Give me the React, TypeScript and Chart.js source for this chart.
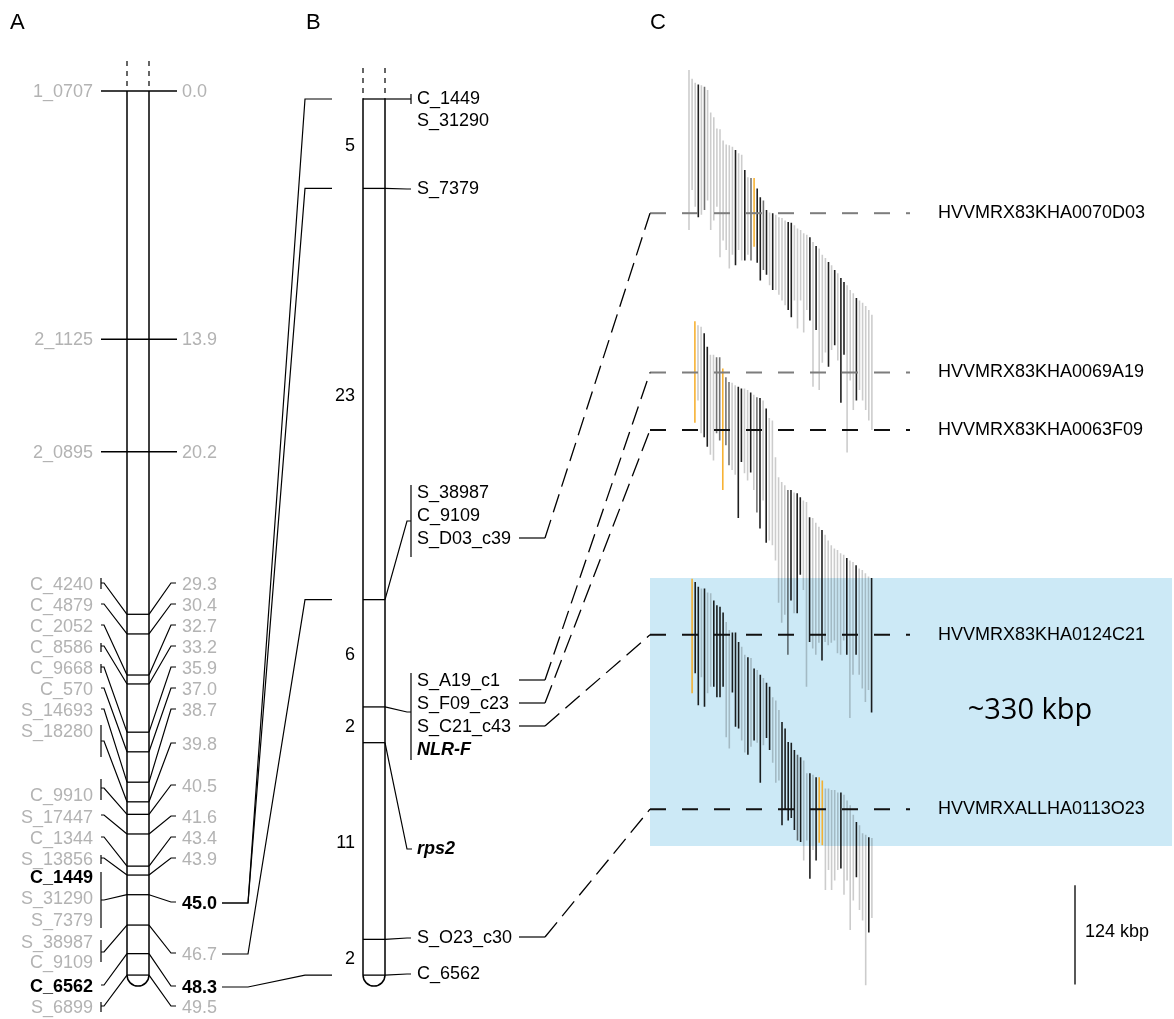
import React, { useEffect, useRef } from 'react';
import { Chart, registerables } from 'chart.js';
Chart.register(...registerables);

const W = 1174;
const H = 1019;

// ---------------- Panel A : genetic map (cM) ----------------
const aTopMarkers = ['1_0707', '2_1125', '2_0895'];
const aTopCM = [0.0, 13.9, 20.2];
const aLociCM = [29.3, 30.4, 32.7, 33.2, 35.9, 37.0, 38.7, 39.8, 40.5, 41.6, 43.4, 43.9, 45.0, 46.7, 48.3, 49.5];
const aMarkers = ['C_4240', 'C_4879', 'C_2052', 'C_8586', 'C_9668', 'C_570', 'S_14693', 'S_18280', 'C_9910',
  'S_17447', 'C_1344', 'S_13856', 'C_1449', 'S_31290', 'S_7379', 'S_38987', 'C_9109', 'C_6562', 'S_6899'];
const aMarkerLocus = [0, 1, 2, 3, 4, 5, 6, 7, 8, 9, 10, 11, 12, 12, 12, 13, 13, 14, 15];
const aBoldMarkers = ['C_1449', 'C_6562'];
const aBoldLoci = [45.0, 48.3];

// ---------------- Panel B : high resolution map ----------------
const bLociPos = [0, 5, 28, 34, 36, 47, 49];
const bIntervalLabels = ['5', '23', '6', '2', '11', '2'];
const bLocusMarkers = [
  ['C_1449', 'S_31290'],
  ['S_7379'],
  ['S_38987', 'C_9109', 'S_D03_c39'],
  ['S_A19_c1', 'S_F09_c23', 'S_C21_c43', 'NLR-F'],
  ['rps2'],
  ['S_O23_c30'],
  ['C_6562'],
];
const bGenes = ['NLR-F', 'rps2'];
const abLinkA = [12, 12, 13, 14];
const abLinkB = [0, 1, 2, 6];

// ---------------- Panel C : BAC contig (kbp) ----------------
const bacNames = ['HVVMRX83KHA0070D03', 'HVVMRX83KHA0069A19', 'HVVMRX83KHA0063F09', 'HVVMRX83KHA0124C21', 'HVVMRXALLHA0113O23'];
const bacKbp = [179, 378, 450, 706, 924];
const bacMarker = ['S_D03_c39', 'S_A19_c1', 'S_F09_c23', 'S_C21_c43', 'S_O23_c30'];
const bacGrey = [true, true, false, false, false];
const regionKbp = [635, 970];
const regionLabel = '~330 kbp';
const scaleKbp = [1019, 1143];
const scaleLabel = '124 kbp';

const c1Start = [0, 11, 16, 18, 19, 21, 25, 53, 59, 73, 74, 88, 93, 94, 96, 100, 104, 106, 125, 134,
  135, 135, 148, 159, 163, 175, 178, 179, 181, 184, 185, 188, 190, 191, 194, 198, 200, 204, 206, 209,
  215, 220, 223, 231, 235, 240, 244, 250, 254, 260, 265, 269, 275, 279, 285, 288, 291, 295, 300, 306];
const c1End = [200, 150, 171, 184, 181, 175, 163, 200, 188, 171, 234, 213, 225, 248, 231, 244, 225, 238, 238, 231,
  238, 221, 241, 263, 250, 256, 269, 275, 275, 281, 288, 294, 300, 309, 288, 323, 288, 328, 300, 313,
  396, 325, 400, 366, 353, 371, 350, 344, 363, 416, 356, 478, 388, 425, 413, 400, 413, 425, 438, 450];
const c1Shade = 'llldl mllll lllll dlldl moddm dldll lldd l lllld l dllld ldldd llldl lllll';

const c2Start = [314, 319, 321, 329, 346, 356, 356, 359, 359, 373, 384, 390, 391, 394, 396, 398, 398, 400, 403, 406,
  409, 410, 413, 423, 435, 438, 484, 509, 515, 519, 525, 525, 528, 529, 534, 538, 540, 559, 560, 566,
  571, 575, 581, 588, 594, 598, 600, 604, 606, 610, 613, 615, 619, 623, 625, 629, 633, 635];
const c2End = [441, 413, 454, 459, 471, 481, 488, 454, 463, 525, 469, 494, 500, 506, 560, 490, 504, 513, 503, 525,
  553, 573, 538, 591, 588, 594, 613, 666, 691, 681, 731, 663, 679, 679, 631, 650, 771, 715, 723, 731,
  716, 738, 715, 719, 716, 713, 729, 731, 713, 731, 810, 756, 731, 756, 773, 790, 775, 803];
const c2Shade = 'olldd llmmo mmlld dlldl mdldl lllll mdldd lldll ldlll lllld lldll lld';

const c3Start = [636, 640, 646, 648, 648, 653, 654, 663, 669, 671, 678, 690, 700, 703, 703, 715, 721, 731, 734, 735,
  748, 750, 756, 760, 766, 771, 784, 788, 800, 815, 823, 840, 841, 850, 856, 859, 863, 879, 879, 881,
  884, 884, 888, 898, 898, 900, 900, 903, 903, 906, 913, 919, 931, 940, 944, 954, 956, 959, 960];
const c3End = [779, 754, 794, 759, 796, 779, 771, 771, 784, 784, 771, 834, 848, 778, 821, 823, 838, 853, 856, 846,
  838, 841, 891, 844, 835, 850, 866, 891, 888, 944, 925, 938, 935, 950, 963, 965, 988, 963, 1011, 975,
  988, 966, 969, 1025, 1000, 1025, 1013, 1000, 998, 1031, 1013, 1075, 1038, 1009, 1050, 1063, 1144, 1078, 1060];
const c3Shade = 'oddld llddd dlldd dlldl dldld dllld ddddm dlldl dooll llldl llldl lldl';

// ---------------- layout (pixels) ----------------
const LAY = {
  aBarL: 127, aBarR: 149, aLabelR: 93, aLineX0: 101, aKneeL: 104, aKneeR: 171, aLineX1: 176, aNumX: 182,
  aRowsL: [585, 606, 627, 648, 669, 690, 711, 732, 796, 818, 839, 860, 878, 899, 921, 943, 963, 987, 1008],
  aLineL: [583, 604, 625, 646, 667, 688, 709, 741, 788, 815, 837, 858, 900, 952, 985, 1006],
  aBracketL: [[578, 589], null, null, [643, 652], [664, 673], null, null, [725, 757], [779, 800], null, null,
    [855, 864], [872, 928], [940, 962], null, [1002, 1012]] as (number[] | null)[],
  aRowsR: [585, 606, 627, 648, 669, 690, 711, 745, 787, 818, 839, 860, 904, 955, 988, 1008],
  linkX0: 222, linkX1: 248, linkX2: 305, linkX3: 332,
  bBarL: 363, bBarR: 385, bKneeX: 407, bBracketX: 411, bLabelX: 417, bNumR: 355,
  bRows: [[99, 121], [189], [493, 516, 539], [681, 704, 727, 750], [849], [938], [974]],
  bKneeY: [99, 189, 521, 712, 849, 938, 974],
  bBracket: [[94, 104], null, [485, 557], [673, 760], null, null, null] as (number[] | null)[],
  bcX0: 519, bcX1: 545, bcX2: 650,
  anchorX0: 650, anchorX1: 910, bacLabelX: 938,
  boxX0: 650, boxX1: 1172, regionX: 1030,
  scaleX: 1075, scaleLabelX: 1085,
  g1Offset: 0, g2Offset: 1.9, g3Offset: 1.0,
};

const FONT = '"Liberation Sans", Arial, Helvetica, sans-serif';
const GREY_TEXT = '#b3b3b3';
const BOX_COLOR = 'rgb(204,233,246)';
const SHADE: Record<string, string> = {
  l: 'rgba(0,0,0,0.2)',
  m: 'rgba(0,0,0,0.55)',
  d: 'rgba(0,0,0,0.88)',
  o: 'rgba(246,170,30,0.9)',
};

function seg(points: { x: number; y: number }[], xAxisID: string, yAxisID: string, color: string, width: number, dash: number[] = []) {
  return {
    data: points,
    xAxisID,
    yAxisID,
    showLine: true,
    borderColor: color,
    backgroundColor: color,
    borderWidth: width,
    borderDash: dash,
    borderCapStyle: 'butt',
    pointRadius: 0,
    pointHoverRadius: 0,
    fill: false,
    tension: 0,
  };
}

function buildDatasets() {
  const ds: any[] = [];
  // Panel A chromosome
  const aEnd = aLociCM[aLociCM.length - 1];
  ds.push(seg([{ x: LAY.aBarL, y: 0 }, { x: LAY.aBarL, y: aEnd }], 'x', 'yA', '#000', 1.5));
  ds.push(seg([{ x: LAY.aBarR, y: 0 }, { x: LAY.aBarR, y: aEnd }], 'x', 'yA', '#000', 1.5));
  aTopCM.forEach((cm) => ds.push(seg([{ x: LAY.aLineX0, y: cm }, { x: LAY.aLineX1 + 1, y: cm }], 'x', 'yA', '#000', 1.3)));
  aLociCM.forEach((cm) => ds.push(seg([{ x: LAY.aBarL, y: cm }, { x: LAY.aBarR, y: cm }], 'x', 'yA', '#000', 1.3)));
  // Panel B chromosome
  const bEnd = bLociPos[bLociPos.length - 1];
  ds.push(seg([{ x: LAY.bBarL, y: 0 }, { x: LAY.bBarL, y: bEnd }], 'x', 'yB', '#000', 1.5));
  ds.push(seg([{ x: LAY.bBarR, y: 0 }, { x: LAY.bBarR, y: bEnd }], 'x', 'yB', '#000', 1.5));
  bLociPos.forEach((p) => ds.push(seg([{ x: LAY.bBarL, y: p }, { x: LAY.bBarR, y: p }], 'x', 'yB', '#000', 1.3)));
  // Panel C anchors
  bacKbp.forEach((k, i) => ds.push(seg([{ x: LAY.anchorX0, y: k }, { x: LAY.anchorX1, y: k }], 'x', 'yC',
    bacGrey[i] ? '#7d7d7d' : '#111', 2, [16, 16])));
  // contig clones
  const groups = [
    { s: c1Start, e: c1End, sh: c1Shade.replace(/ /g, ''), off: LAY.g1Offset },
    { s: c2Start, e: c2End, sh: c2Shade.replace(/ /g, ''), off: LAY.g2Offset },
    { s: c3Start, e: c3End, sh: c3Shade.replace(/ /g, ''), off: LAY.g3Offset },
  ];
  groups.forEach((g) => {
    g.s.forEach((s, i) => {
      const col = SHADE[g.sh[i]] || SHADE.l;
      ds.push(seg([{ x: g.off + i, y: s }, { x: g.off + i, y: g.e[i] }], 'xC', 'yC', col, 1.6));
    });
  });
  // scale bar
  ds.push(seg([{ x: LAY.scaleX, y: scaleKbp[0] }, { x: LAY.scaleX, y: scaleKbp[1] }], 'x', 'yC', '#000', 1.3));
  return ds;
}

function path(ctx: CanvasRenderingContext2D, pts: number[][], color = '#000', w = 1.2, dash: number[] = []) {
  ctx.save();
  ctx.beginPath();
  ctx.setLineDash(dash);
  ctx.strokeStyle = color;
  ctx.lineWidth = w;
  ctx.lineJoin = 'miter';
  pts.forEach((p, i) => (i ? ctx.lineTo(p[0], p[1]) : ctx.moveTo(p[0], p[1])));
  ctx.stroke();
  ctx.restore();
}

function text(ctx: CanvasRenderingContext2D, s: string, x: number, y: number, opt: { align?: CanvasTextAlign; color?: string; font?: string } = {}) {
  ctx.save();
  ctx.font = opt.font || `18px ${FONT}`;
  ctx.fillStyle = opt.color || '#000';
  ctx.textAlign = opt.align || 'left';
  ctx.textBaseline = 'middle';
  ctx.fillText(s, x, y);
  ctx.restore();
}

const mapPlugin = {
  id: 'geneticMapDecor',
  beforeDatasetsDraw(chart: any) {
    const { ctx, scales } = chart;
    const t = scales.yC.getPixelForValue(regionKbp[0]);
    const b = scales.yC.getPixelForValue(regionKbp[1]);
    ctx.save();
    ctx.fillStyle = BOX_COLOR;
    ctx.fillRect(LAY.boxX0, t, LAY.boxX1 - LAY.boxX0, b - t);
    ctx.restore();
  },
  afterDatasetsDraw(chart: any) {
    const { ctx, scales } = chart;
    const yA = (v: number) => scales.yA.getPixelForValue(v);
    const yB = (v: number) => scales.yB.getPixelForValue(v);
    const yC = (v: number) => scales.yC.getPixelForValue(v);

    // panel letters
    text(ctx, 'A', 10, 23, { font: `22px ${FONT}` });
    text(ctx, 'B', 306, 23, { font: `22px ${FONT}` });
    text(ctx, 'C', 650, 23, { font: `22px ${FONT}` });

    // ---- Panel A ----
    const a0 = yA(0);
    [LAY.aBarL, LAY.aBarR].forEach((x) => path(ctx, [[x, a0 - 30], [x, a0]], '#000', 1.2, [5, 5]));
    const aLast = aLociCM[aLociCM.length - 1];
    ctx.save();
    ctx.beginPath();
    ctx.lineWidth = 1.5;
    ctx.strokeStyle = '#000';
    ctx.arc((LAY.aBarL + LAY.aBarR) / 2, yA(aLast), (LAY.aBarR - LAY.aBarL) / 2, 0, Math.PI);
    ctx.stroke();
    ctx.restore();

    aTopMarkers.forEach((m, i) => {
      const y = yA(aTopCM[i]) + 1;
      text(ctx, m, LAY.aLabelR, y, { align: 'right', color: GREY_TEXT });
      text(ctx, aTopCM[i].toFixed(1), LAY.aNumX, y, { color: GREY_TEXT });
    });

    aLociCM.forEach((cm, i) => {
      const ty = yA(cm);
      const ly = LAY.aLineL[i];
      path(ctx, [[LAY.aBarL, ty], [LAY.aKneeL, ly], [LAY.aLineX0, ly]], '#000', 1.2);
      const br = LAY.aBracketL[i];
      if (br) path(ctx, [[LAY.aLineX0, br[0]], [LAY.aLineX0, br[1]]], '#000', 1.2);
      const ry = LAY.aRowsR[i] - 2;
      path(ctx, [[LAY.aBarR, ty], [LAY.aKneeR, ry], [LAY.aLineX1, ry]], '#000', 1.2);
      const bold = aBoldLoci.includes(cm);
      text(ctx, cm.toFixed(1), LAY.aNumX, LAY.aRowsR[i], {
        color: bold ? '#000' : GREY_TEXT,
        font: `${bold ? 'bold ' : ''}18px ${FONT}`,
      });
    });

    aMarkers.forEach((m, i) => {
      const bold = aBoldMarkers.includes(m);
      text(ctx, m, LAY.aLabelR, LAY.aRowsL[i], {
        align: 'right',
        color: bold ? '#000' : GREY_TEXT,
        font: `${bold ? 'bold ' : ''}18px ${FONT}`,
      });
    });

    // ---- links A -> B ----
    abLinkA.forEach((ai, k) => {
      const ry = LAY.aRowsR[ai] - 1;
      const by = yB(bLociPos[abLinkB[k]]);
      path(ctx, [[LAY.linkX0, ry], [LAY.linkX1, ry], [LAY.linkX2, by], [LAY.linkX3, by]], '#000', 1.2);
    });

    // ---- Panel B ----
    const b0 = yB(0);
    [LAY.bBarL, LAY.bBarR].forEach((x) => path(ctx, [[x, b0 - 31], [x, b0]], '#000', 1.2, [5, 5]));
    const bLast = bLociPos[bLociPos.length - 1];
    ctx.save();
    ctx.beginPath();
    ctx.lineWidth = 1.5;
    ctx.strokeStyle = '#000';
    ctx.arc((LAY.bBarL + LAY.bBarR) / 2, yB(bLast), (LAY.bBarR - LAY.bBarL) / 2, 0, Math.PI);
    ctx.stroke();
    ctx.restore();

    bIntervalLabels.forEach((s, i) => {
      const y = yB((bLociPos[i] + bLociPos[i + 1]) / 2) + 2;
      text(ctx, s, LAY.bNumR, y, { align: 'right' });
    });

    bLociPos.forEach((p, j) => {
      const ty = yB(p);
      const ky = LAY.bKneeY[j];
      path(ctx, [[LAY.bBarR, ty], [LAY.bKneeX, ky], [LAY.bBracketX + (j === 4 ? 1 : 0), ky]], '#000', 1.2);
      const br = LAY.bBracket[j];
      if (br) path(ctx, [[LAY.bBracketX, br[0]], [LAY.bBracketX, br[1]]], '#000', 1.2);
      bLocusMarkers[j].forEach((m, r) => {
        const gene = bGenes.includes(m);
        text(ctx, m, LAY.bLabelX, LAY.bRows[j][r], { font: `${gene ? 'italic bold ' : ''}18px ${FONT}` });
      });
    });

    // ---- links B -> C ----
    bacMarker.forEach((m, i) => {
      let ry = 0;
      bLocusMarkers.forEach((ms, j) => {
        const r = ms.indexOf(m);
        if (r >= 0) ry = LAY.bRows[j][r] - 1;
      });
      const cy = yC(bacKbp[i]);
      path(ctx, [[LAY.bcX0, ry], [LAY.bcX1, ry]], '#000', 1.2);
      path(ctx, [[LAY.bcX1, ry], [LAY.bcX2, cy]], '#000', 1.3, [19, 8]);
      text(ctx, bacNames[i], LAY.bacLabelX, cy, {});
    });

    // region label and scale bar label
    const rmid = (yC(regionKbp[0]) + yC(regionKbp[1])) / 2;
    text(ctx, regionLabel, LAY.regionX, rmid - 1, { align: 'center', font: `29px "Open Sans", ${FONT}` });
    const smid = (yC(scaleKbp[0]) + yC(scaleKbp[1])) / 2;
    text(ctx, scaleLabel, LAY.scaleLabelX, smid - 3, {});
  },
};

function hidden(axis: 'x' | 'y', min: number, max: number, reverse = false) {
  return { type: 'linear', axis, min, max, reverse, display: false, grace: 0, offset: false };
}

export default function App() {
  const ref = useRef<HTMLCanvasElement>(null);
  useEffect(() => {
    document.body.style.margin = '0';
    const canvas = ref.current;
    if (!canvas) return;
    const chart = new Chart(canvas, {
      type: 'scatter',
      data: { datasets: buildDatasets() as any },
      options: {
        animation: false,
        responsive: false,
        devicePixelRatio: 1,
        events: [],
        layout: { padding: 0 },
        plugins: { legend: { display: false }, tooltip: { enabled: false }, title: { display: false } },
        scales: {
          x: hidden('x', 0, W),
          xC: hidden('x', -689 / 3.1, -689 / 3.1 + W / 3.1),
          yA: hidden('y', -91 / 17.86, -91 / 17.86 + H / 17.86, true),
          yB: hidden('y', -99 / 17.88, -99 / 17.88 + H / 17.88, true),
          yC: hidden('y', -87.5, -87.5 + H / 0.8, true),
        } as any,
      },
      plugins: [mapPlugin as any],
    });
    return () => chart.destroy();
  }, []);
  return (
    <div style={{ width: W, height: H, background: '#fff' }}>
      <canvas ref={ref} width={W} height={H} style={{ display: 'block', width: W, height: H }} />
    </div>
  );
}
